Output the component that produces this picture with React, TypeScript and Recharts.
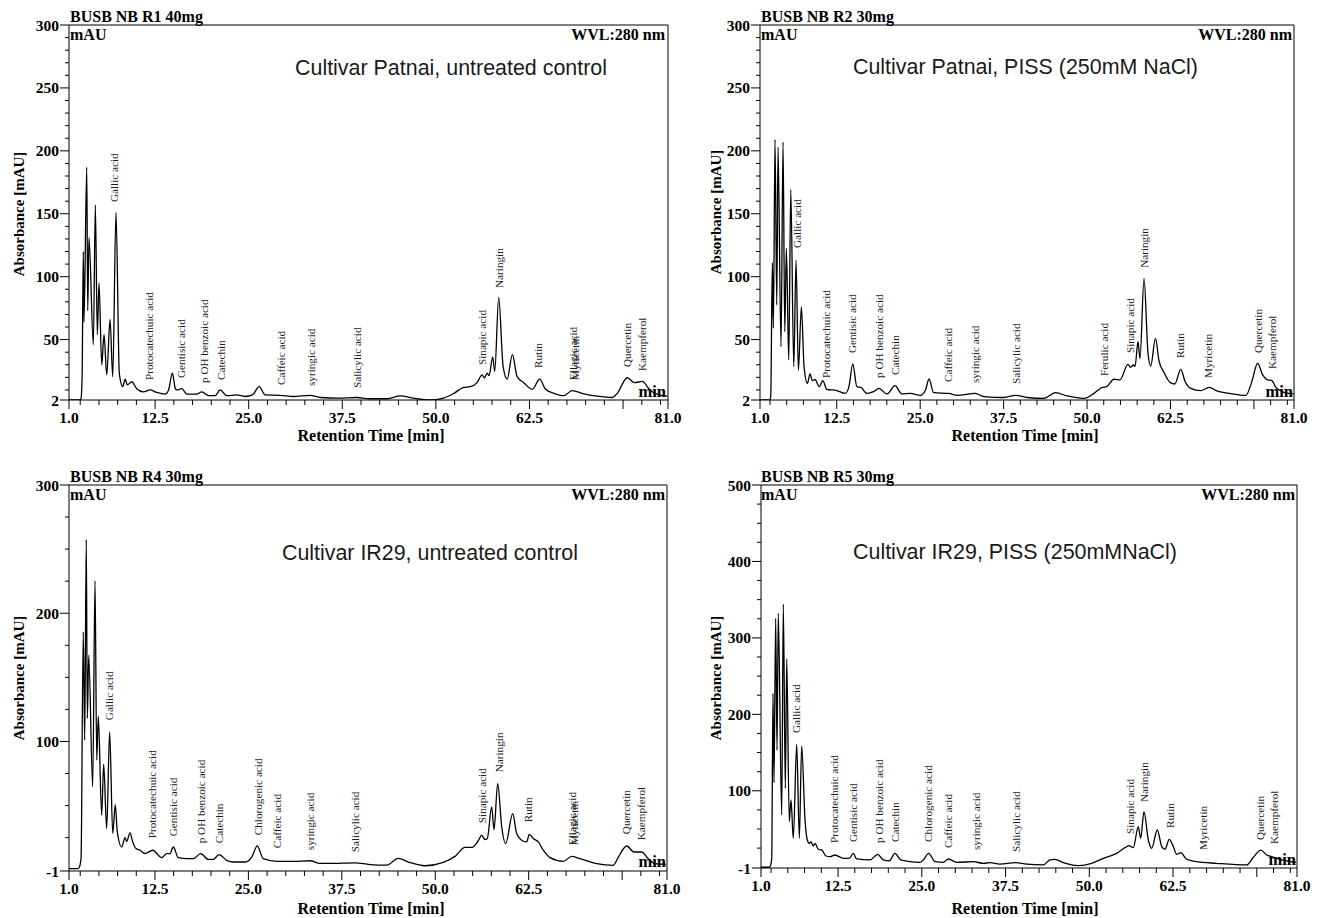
import React from 'react';
import { ComposedChart, Line, Scatter, XAxis, YAxis, ReferenceLine } from 'recharts';

// ---------- data: chromatogram traces [retention time (min), absorbance (mAU)] ----------
const r1Trace: number[][] = [
  [1.0, 2], [2.4, 2], [2.6, 3], [2.75, 20], [2.91, 120], [3.0, 64], [3.37, 187], [3.5, 73], [3.67, 131],
  [4.25, 46], [4.52, 157], [4.78, 54], [5.01, 95], [5.37, 30], [5.68, 54], [6.04, 22], [6.48, 66],
  [6.84, 20.5], [7.28, 151], [7.72, 23], [8.18, 12.6], [8.49, 18.6], [8.79, 14], [9.38, 16.5], [10.05, 11],
  [10.93, 8.5], [11.83, 10], [12.72, 8], [13.83, 6.7], [14.3, 10], [14.81, 23.4], [15.2, 11], [15.4, 10],
  [16.07, 11], [16.73, 6.7], [18.07, 6.7], [18.74, 8.5], [19.62, 5.4], [20.5, 5.4], [21.19, 10], [22.08, 5.4],
  [23.42, 6], [24.53, 4.8], [25.5, 6], [26.4, 12.6], [27.2, 6], [29.2, 5.7], [30.95, 4.8], [33.2, 5.7],
  [34.6, 4], [37, 3.5], [39.46, 4], [41, 3], [43.47, 3], [45.25, 5.3], [47, 3.5], [49.26, 2], [51, 3.5],
  [52.38, 7.2], [53.71, 12], [54.61, 12.6], [55.5, 15.8], [56.17, 21.9], [56.48, 19.7], [56.84, 23.4],
  [57.1, 21.4], [57.59, 36], [57.86, 24.7], [58.39, 83.6], [58.98, 28.5], [59.52, 18.6], [60.22, 38],
  [60.85, 20.6], [61.74, 15.8], [62.86, 10.5], [63.87, 18.6], [64.64, 10.5], [65.75, 7.3], [67.08, 5.4],
  [68.2, 9.5], [69.76, 6.8], [71.55, 5], [73.55, 4], [74.22, 7.3], [75.56, 19.7], [76.53, 15.8],
  [77.56, 16.8], [78.45, 11], [79.34, 7], [80.9, 5],
];

const r2Trace: number[][] = [
  [1.0, 2], [2.45, 2], [2.61, 5], [2.85, 111], [3.0, 59], [3.25, 209], [3.51, 77.5], [3.7, 203], [4.15, 44.4],
  [4.45, 207], [4.71, 56.3], [4.95, 122.5], [5.31, 33.8], [5.61, 169], [6.06, 28.5], [6.4, 113], [6.75, 25.8],
  [7.2, 76], [7.6, 28.5], [8.1, 15.2], [8.5, 22.7], [8.85, 17.4], [9.26, 18.3], [9.86, 12.6], [10.41, 17.4],
  [11.01, 10.5], [12.51, 9.5], [13.76, 7.2], [14.3, 12], [14.91, 30.6], [15.51, 12.6], [16.11, 12],
  [17.01, 7.2], [18.0, 8.6], [18.82, 11.3], [20.02, 6.8], [21.22, 13.4], [22.27, 6.8], [23.51, 7.3],
  [25.02, 5.7], [25.8, 10], [26.32, 18.7], [27.01, 7.8], [29.26, 7.2], [30.52, 5.7], [33.27, 7.2],
  [34.52, 4.7], [37.52, 4], [39.27, 5.7], [41.03, 4], [43.52, 3.3], [45.28, 7.8], [47.03, 5.2], [49.53, 3.3],
  [51.03, 7.3], [52.29, 12], [52.93, 12.6], [54.03, 18.5], [54.93, 18], [56.13, 30.3], [56.53, 28],
  [56.94, 29.8], [57.18, 28.5], [57.63, 48.3], [57.93, 35], [58.53, 98.7], [59.13, 39], [59.54, 29],
  [60.24, 51], [60.78, 33], [61.53, 23.8], [62.43, 16], [63.14, 14.7], [64.04, 26.4], [64.64, 17.3],
  [65.54, 11.2], [67.04, 9.4], [68.29, 12], [69.55, 9], [71.54, 7.1], [73.8, 5.7], [74.65, 16],
  [75.55, 31.2], [76.3, 22], [77.05, 18], [77.65, 17.5], [78.29, 12], [79.3, 8.5], [80.95, 6.8],
];

const r4Trace: number[][] = [
  [1.0, 0.8], [2.24, 0.8], [2.45, 3], [2.61, 8.7], [2.91, 185.5], [3.1, 101], [3.31, 257.6], [3.45, 118],
  [3.64, 167.3], [4.17, 64.6], [4.48, 225.3], [4.71, 85.4], [4.92, 119.7], [5.37, 42.5], [5.64, 82.3],
  [6.04, 32.1], [6.44, 107.5], [6.85, 28.2], [7.19, 50.8], [7.46, 29.4], [8.05, 17.7], [8.49, 25], [8.72, 22],
  [9.16, 28.7], [9.52, 21.7], [9.96, 16.5], [10.5, 15.2], [11.17, 12.6], [12.2, 15.2], [13.4, 9.4],
  [14.07, 12.6], [14.51, 12.6], [14.95, 17.7], [15.62, 9.4], [16.75, 8.6], [17.63, 8.6], [18.62, 12.6],
  [19.64, 8], [20.3, 8], [21.07, 11.8], [22.1, 7.3], [22.98, 6], [24.55, 6], [25.44, 9.9], [26.19, 18.5],
  [26.99, 8.6], [28.79, 6.5], [31.0, 6.5], [33.24, 7], [34.58, 4.9], [35.92, 4.9], [39.26, 5.4], [41.27, 4],
  [43.5, 3.6], [45.05, 8.8], [46.39, 6], [48.63, 3.1], [51.07, 5.7], [52.64, 10.4], [53.98, 17.4],
  [54.87, 17.4], [55.76, 22.6], [56.21, 26.9], [56.65, 23.5], [56.96, 24.3], [57.55, 49], [57.86, 31.2],
  [58.35, 67.2], [58.89, 33.3], [59.42, 20.4], [60.36, 43.8], [60.89, 28.2], [61.56, 23], [62.23, 21.7],
  [62.58, 27.6], [63.11, 24.3], [63.78, 21.7], [64.45, 15.2], [65.35, 9.4], [67.13, 6.5], [68.25, 10.4],
  [69.36, 8.6], [71.6, 4.7], [73.82, 3.4], [74.49, 9.9], [75.61, 18.5], [76.59, 13.8], [77.61, 13.8],
  [78.5, 8.6], [79.39, 4.7], [80.87, 4.2],
];

const r5Trace: number[][] = [
  [1.0, 0], [2.24, 0], [2.45, 3], [2.6, 11.7], [2.79, 227.5], [2.94, 110.6], [3.19, 325.6], [3.39, 153],
  [3.58, 332], [4.09, 68.3], [4.33, 344.3], [4.63, 103.2], [4.84, 272.4], [5.22, 59.6], [5.48, 88],
  [5.82, 37.8], [6.33, 160.7], [6.72, 37.8], [7.07, 158.6], [7.57, 61.8], [7.91, 35.6], [8.21, 31.3],
  [8.46, 33], [8.81, 27.8], [9.06, 31.3], [9.55, 23.5], [10.06, 22.6], [10.7, 14.7], [11.3, 13.8],
  [12.04, 16], [13.28, 11.7], [14.18, 11.7], [14.78, 18.2], [15.28, 10.8], [17.27, 9.5], [18.42, 16.9],
  [19.25, 9.5], [20.15, 8.2], [21.0, 18.2], [21.85, 9.5], [23.24, 7.3], [24.73, 6.4], [25.22, 9.5],
  [26.03, 18.2], [26.97, 7.3], [28.21, 6.4], [28.96, 10.8], [30.21, 6.4], [32.69, 7.3], [34.18, 5.1],
  [35.18, 6], [36.67, 4.2], [38.91, 6], [40.66, 4], [43.13, 3], [44.13, 9.5], [44.88, 10.4], [46.12, 6],
  [48.36, 2.1], [50.36, 5.1], [52.09, 11.7], [54.09, 18.2], [55.33, 25.6], [55.97, 28.2], [56.57, 25.6],
  [57.31, 53], [57.67, 37.8], [58.16, 72.7], [58.81, 35.6], [59.31, 24.8], [60.15, 48.7], [60.81, 27],
  [61.3, 23.5], [61.94, 36.5], [62.54, 27], [63.04, 17], [63.64, 19], [64.54, 10.4], [66.03, 7.3],
  [69.01, 5.1], [73.49, 3], [74.48, 13], [75.58, 22.5], [76.48, 16], [77.22, 13.8], [77.97, 11.7],
  [79.46, 8.2], [80.85, 6.4],
];

// ---------- data: peak annotations [compound, retention time, label foot (mAU)] ----------
const r1Labels: [string, number, number][] = [
  ['Gallic acid', 7.08, 159.3], ['Protocatechuic acid', 11.7, 17.9], ['Gentisic acid', 15.97, 19.5],
  ['p OH benzoic acid', 19.05, 15.5], ['Catechin', 21.32, 17.9], ['Caffeic acid', 29.34, 13.9],
  ['syringic acid', 33.35, 13.1], ['Salicylic acid', 39.5, 11.5], ['Sinapic acid', 56.2, 29.8],
  ['Naringin', 58.5, 91], ['Rutin', 63.7, 27.4], ['Ellagic acid', 68.4, 17.9], ['Myricetin', 68.65, 17.9],
  ['Quercetin', 75.5, 28.2], ['Kaempferol', 77.5, 25],
];
const r2Labels: [string, number, number][] = [
  ['Gallic acid', 6.63, 122.8], ['Protocatechuic acid', 10.9, 19.5], ['Gentisic acid', 14.88, 39.3],
  ['p OH benzoic acid', 18.86, 19.5], ['Catechin', 21.26, 21.9], ['Caffeic acid', 29.2, 16.3],
  ['syringic acid', 33.2, 15.5], ['Salicylic acid', 39.4, 14.7], ['Ferulic acid', 52.6, 21],
  ['Sinapic acid', 56.4, 39.3], ['Naringin', 58.6, 107], ['Rutin', 64.0, 35.4], ['Myricetin', 68.1, 19.5],
  ['Quercetin', 75.6, 39.3], ['Kaempferol', 77.7, 26.6],
];
const r4Labels: [string, number, number][] = [
  ['Gallic acid', 6.31, 116.6], ['Protocatechuic acid', 12.17, 24.6], ['Gentisic acid', 14.94, 26.1],
  ['p OH benzoic acid', 18.63, 20.6], ['Catechin', 21.07, 20.6], ['Chlorogenic acid', 26.26, 26.9],
  ['Caffeic acid', 28.9, 16.8], ['syringic acid', 33.2, 15.2], ['Salicylic acid', 39.3, 13.6],
  ['Sinapic acid', 56.3, 36.3], ['Naringin', 58.5, 76], ['Rutin', 62.4, 37], ['Ellagic acid', 68.3, 19.2],
  ['Myricetin', 68.55, 19.2], ['Quercetin', 75.6, 27.7], ['Kaempferol', 77.5, 23],
];
const r5Labels: [string, number, number][] = [
  ['Gallic acid', 6.22, 175.6], ['Protocatechuic acid', 11.97, 31.7], ['Gentisic acid', 14.8, 33],
  ['p OH benzoic acid', 18.6, 31.7], ['Catechin', 21.0, 33], ['Chlorogenic acid', 25.9, 33],
  ['Caffeic acid', 28.96, 25], ['syringic acid', 33.1, 22.5], ['Salicylic acid', 39.06, 19.9],
  ['Sinapic acid', 56.15, 43.5], ['Naringin', 58.16, 85.3], ['Rutin', 62.04, 51.3], ['Myricetin', 67.07, 22.5],
  ['Quercetin', 75.55, 35.6], ['Kaempferol', 77.57, 30.4],
];

// ---------- ticks ----------
const xTicks = [1, 2.5, 5, 7.5, 10, 12.5, 15, 17.5, 20, 22.5, 25, 27.5, 30, 32.5, 35, 37.5, 40, 42.5, 45, 47.5,
  50, 52.5, 55, 57.5, 60, 62.5, 65, 67.5, 70, 72.5, 75, 77.5, 80, 81];
const xLongTicks = [1, 12.5, 25, 37.5, 50, 62.5, 75, 81];
const xLabelTicks = [1, 12.5, 25, 37.5, 50, 62.5, 81];

const yTicks300a = [2, 10, 20, 30, 40, 50, 60, 70, 80, 90, 100, 110, 120, 130, 140, 150, 160, 170, 180, 190, 200,
  210, 220, 230, 240, 250, 260, 270, 280, 290, 300];
const yMajor300a = [2, 50, 100, 150, 200, 250, 300];
const yTicks300b = [-1, 25, 50, 75, 100, 125, 150, 175, 200, 225, 250, 275, 300];
const yMajor300b = [-1, 100, 200, 300];
const yTicks500 = [-1, 25, 50, 75, 100, 125, 150, 175, 200, 225, 250, 275, 300, 325, 350, 375, 400, 425, 450,
  475, 500];
const yMajor500 = [-1, 100, 200, 300, 400, 500];

// ---------- text ----------
const sampleNames = ['BUSB NB R1 40mg', 'BUSB NB R2 30mg', 'BUSB NB R4 30mg', 'BUSB NB R5 30mg'];
const cultivarTitles = ['Cultivar Patnai, untreated control', 'Cultivar Patnai, PISS (250mM NaCl)',
  'Cultivar IR29, untreated control', 'Cultivar IR29, PISS (250mMNaCl)'];

const SERIF = '"Liberation Serif", "Times New Roman", serif';
const SANS = '"Liberation Sans", Arial, sans-serif';

const toPts = (a: number[][]) => a.map(([t, v]) => ({ t, v }));
const toLabels = (a: [string, number, number][]) => a.map(([name, t, v]) => ({ name, t, v }));

function XTick(props: any) {
  const { x, y, payload } = props;
  const val = payload.value as number;
  const long = xLongTicks.includes(val);
  const lab = xLabelTicks.includes(val);
  return (
    <g>
      <line x1={x} x2={x} y1={y} y2={y + (long ? 9 : 5)} stroke="#000" strokeWidth={1} />
      {lab && (
        <text x={x} y={y + 23} textAnchor="middle" fontFamily={SERIF} fontWeight="bold" fontSize={15.5} fill="#000">
          {val.toFixed(1)}
        </text>
      )}
    </g>
  );
}

const makeYTick = (major: number[]) => (props: any) => {
  const { x, y, payload } = props;
  const val = payload.value as number;
  const isMajor = major.includes(val);
  return (
    <g>
      <line x1={x - (isMajor ? 9 : 4)} x2={x} y1={y} y2={y} stroke="#000" strokeWidth={1} />
      {isMajor && (
        <text x={x - 10} y={y + 5.5} textAnchor="end" fontFamily={SERIF} fontWeight="bold" fontSize={15.5} fill="#000">
          {String(val)}
        </text>
      )}
    </g>
  );
};

const renderPeakLabel = (p: any) => {
  if (p.cx == null || p.cy == null) return <g />;
  return (
    <text transform={`translate(${p.cx},${p.cy}) rotate(-90)`} dy="0.34em" fontFamily={SERIF} fontSize={11.2}
      fill="#1a1a1a">
      {p.payload.name}
    </text>
  );
};

type PanelCfg = {
  left: number; top: number; width: number; height: number;
  margin: { top: number; right: number; bottom: number; left: number };
  yDomain: [number, number]; yTicks: number[]; yMajor: number[];
  trace: number[][]; labels: [string, number, number][];
};

// margins exclude the 1px axis bands (plot area: left = margin.left + 1, bottom = height - margin.bottom - 1)
const panels: PanelCfg[] = [
  { left: 0, top: 0, width: 690, height: 459, margin: { top: 25, right: 22, bottom: 58, left: 68 },
    yDomain: [2, 300], yTicks: yTicks300a, yMajor: yMajor300a, trace: r1Trace, labels: r1Labels },
  { left: 690, top: 0, width: 629, height: 459, margin: { top: 25, right: 25, bottom: 58, left: 69 },
    yDomain: [2, 300], yTicks: yTicks300a, yMajor: yMajor300a, trace: r2Trace, labels: r2Labels },
  { left: 0, top: 459, width: 690, height: 459, margin: { top: 26, right: 23, bottom: 46, left: 68 },
    yDomain: [-1, 300], yTicks: yTicks300b, yMajor: yMajor300b, trace: r4Trace, labels: r4Labels },
  { left: 690, top: 459, width: 629, height: 459, margin: { top: 26, right: 22, bottom: 49, left: 70 },
    yDomain: [-1, 500], yTicks: yTicks500, yMajor: yMajor500, trace: r5Trace, labels: r5Labels },
];

function Panel({ cfg }: { cfg: PanelCfg }) {
  const YTick = makeYTick(cfg.yMajor);
  return (
    <div style={{ position: 'absolute', left: cfg.left, top: cfg.top, width: cfg.width, height: cfg.height }}>
      <ComposedChart width={cfg.width} height={cfg.height} margin={cfg.margin}>
        <XAxis type="number" dataKey="t" domain={[1, 81]} ticks={xTicks} interval={0} allowDataOverflow
          height={1} tickLine={false} tickSize={0} tickMargin={0} axisLine={{ stroke: '#000' }} tick={XTick} />
        <YAxis type="number" dataKey="v" domain={cfg.yDomain} ticks={cfg.yTicks} interval={0} allowDataOverflow
          width={1} tickLine={false} tickSize={0} tickMargin={0} axisLine={{ stroke: '#000' }} tick={YTick} />
        <ReferenceLine y={cfg.yDomain[1]} stroke="#000" strokeWidth={1} />
        <ReferenceLine x={81} stroke="#000" strokeWidth={1} />
        <Line data={toPts(cfg.trace)} dataKey="v" type="monotone" stroke="#000" strokeWidth={1.3} dot={false}
          activeDot={false} isAnimationActive={false} />
        <Scatter data={toLabels(cfg.labels)} dataKey="v" shape={renderPeakLabel} isAnimationActive={false} />
      </ComposedChart>
    </div>
  );
}

const overlay = [
  { name: { x: 70, y: 22 }, mau: { x: 70, y: 40 }, wvl: { x: 665, y: 40 }, min: { x: 666, y: 397 },
    title: { x: 295, y: 75, len: 312 }, ylab: { x: 19, y: 214 }, xlab: { x: 371, y: 441 } },
  { name: { x: 761, y: 22 }, mau: { x: 761, y: 40 }, wvl: { x: 1292, y: 40 }, min: { x: 1293, y: 397 },
    title: { x: 853, y: 74, len: 345 }, ylab: { x: 716, y: 212 }, xlab: { x: 1025, y: 441 } },
  { name: { x: 70, y: 482 }, mau: { x: 70, y: 500 }, wvl: { x: 665, y: 500 }, min: { x: 666, y: 867 },
    title: { x: 282, y: 560, len: 296 }, ylab: { x: 19, y: 678 }, xlab: { x: 371, y: 914 } },
  { name: { x: 761, y: 482 }, mau: { x: 761, y: 500 }, wvl: { x: 1295, y: 500 }, min: { x: 1296, y: 865 },
    title: { x: 853, y: 559, len: 324 }, ylab: { x: 716, y: 678 }, xlab: { x: 1025, y: 914 } },
];

export default function App() {
  const bold = { fontFamily: SERIF, fontWeight: 'bold' as const, fill: '#000' };
  return (
    <div style={{ position: 'absolute', left: 0, top: 0, width: 1319, height: 918, background: '#fff', overflow: 'hidden' }}>
      {panels.map((p, i) => <Panel key={i} cfg={p} />)}
      <svg width={1319} height={918} style={{ position: 'absolute', left: 0, top: 0, pointerEvents: 'none' }}>
        {overlay.map((o, i) => (
          <g key={i}>
            <text x={o.name.x} y={o.name.y} fontSize={16} {...bold}>{sampleNames[i]}</text>
            <text x={o.mau.x} y={o.mau.y} fontSize={16} {...bold}>mAU</text>
            <text x={o.wvl.x} y={o.wvl.y} fontSize={16} textAnchor="end" {...bold}>WVL:280 nm</text>
            <text x={o.min.x} y={o.min.y} fontSize={16.5} textAnchor="end" {...bold}>min</text>
            <text x={o.title.x} y={o.title.y} fontSize={22.5} fontFamily={SANS} fill="#1a1a1a"
              textLength={o.title.len} lengthAdjust="spacingAndGlyphs">{cultivarTitles[i]}</text>
            <text transform={`translate(${o.ylab.x},${o.ylab.y}) rotate(-90)`} dy="0.35em" textAnchor="middle"
              fontSize={15} {...bold}>Absorbance [mAU]</text>
            <text x={o.xlab.x} y={o.xlab.y} textAnchor="middle" fontSize={16} {...bold}>Retention Time [min]</text>
          </g>
        ))}
      </svg>
    </div>
  );
}
